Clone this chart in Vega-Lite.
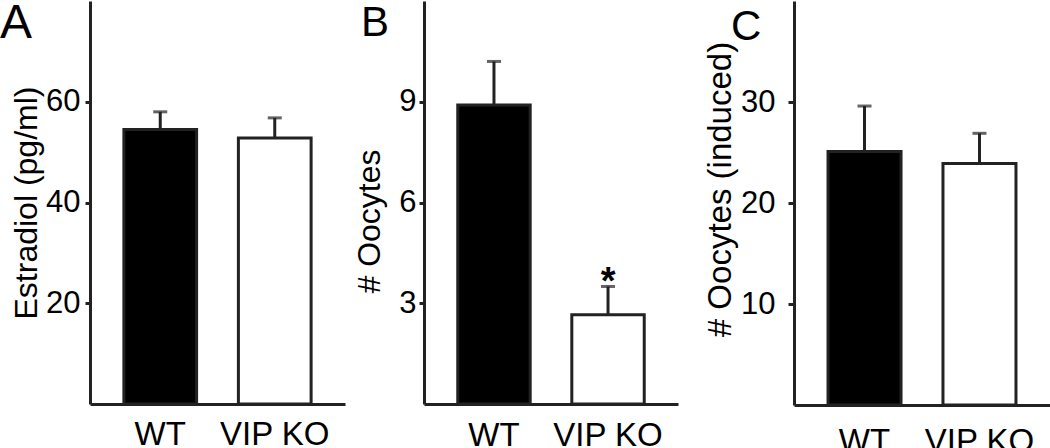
{
  "$schema": "https://vega.github.io/schema/vega-lite/v6.json",
  "padding": 0,
  "background": "white",
  "config": {
    "view": {"stroke": null},
    "font": "Liberation Sans",
    "axis": {"grid": false, "domainColor": "#222", "domainWidth": 3, "tickColor": "#222", "tickWidth": 3, "labelColor": "black", "titleColor": "black", "labelFont": "Liberation Sans", "titleFont": "Liberation Sans", "titleFontWeight": "normal"},
    "title": {"font": "Liberation Sans", "fontWeight": "normal", "color": "black", "anchor": "start", "frame": "group", "baseline": "top", "offset": 0, "orient": "none"}
  },
  "datasets": {
    "a": [
      {"group": "WT", "mean": 54.5, "upper": 58.0, "sig": ""},
      {"group": "VIP KO", "mean": 52.8, "upper": 56.8, "sig": ""}
    ],
    "b": [
      {"group": "WT", "mean": 8.9, "upper": 10.2, "sig": ""},
      {"group": "VIP KO", "mean": 2.66, "upper": 3.5, "sig": "*"}
    ],
    "c": [
      {"group": "WT", "mean": 25.1, "upper": 29.6, "sig": ""},
      {"group": "VIP KO", "mean": 23.9, "upper": 26.9, "sig": ""}
    ]
  },
  "spacing": 26,
  "hconcat": [
    {
      "spacing": 8,
      "hconcat": [
        {
          "width": 255, "height": 403,
          "data": {"name": "a"},
          "title": {"text": "A", "fontSize": 48, "orient": "none", "dx": -90, "dy": -1},
          "encoding": {
            "x": {"field": "group", "type": "nominal", "sort": ["WT", "VIP KO"],
                  "scale": {"paddingInner": 0.365, "paddingOuter": 0.296},
                  "axis": {"title": null, "labelAngle": 0, "ticks": false, "labelFontSize": 33, "labelPadding": 14}}
          },
          "layer": [
            {"mark": {"type": "bar", "stroke": "#222", "strokeWidth": 3},
             "encoding": {
               "y": {"field": "mean", "type": "quantitative", "scale": {"domain": [0, 80]},
                     "axis": {"title": "Estradiol (pg/ml)", "values": [20, 40, 60], "titleFontSize": 32, "labelFontSize": 31, "tickSize": 5, "labelPadding": 5, "titlePadding": 2}},
               "fill": {"field": "group", "type": "nominal", "scale": {"domain": ["WT", "VIP KO"], "range": ["black", "white"]}, "legend": null}
             }},
            {"mark": {"type": "rule", "strokeWidth": 3, "color": "#222"},
             "encoding": {"y": {"field": "mean", "type": "quantitative"}, "y2": {"field": "upper"}}},
            {"mark": {"type": "tick", "size": 14, "thickness": 3, "color": "#222"},
             "encoding": {"y": {"field": "upper", "type": "quantitative"}}}
          ]
        },
        {
          "width": 254, "height": 403,
          "data": {"name": "b"},
          "title": {"text": "B", "fontSize": 42, "orient": "none", "dx": -63, "dy": 2},
          "encoding": {
            "x": {"field": "group", "type": "nominal", "sort": ["WT", "VIP KO"],
                  "scale": {"paddingInner": 0.365, "paddingOuter": 0.296},
                  "axis": {"title": null, "labelAngle": 0, "ticks": false, "labelFontSize": 33, "labelPadding": 15}}
          },
          "layer": [
            {"mark": {"type": "bar", "stroke": "#222", "strokeWidth": 3},
             "encoding": {
               "y": {"field": "mean", "type": "quantitative", "scale": {"domain": [0, 12]},
                     "axis": {"title": "# Oocytes", "values": [3, 6, 9], "titleFontSize": 32, "labelFontSize": 31, "tickSize": 5, "labelPadding": 3, "titlePadding": 12, "titleY": 220}},
               "fill": {"field": "group", "type": "nominal", "scale": {"domain": ["WT", "VIP KO"], "range": ["black", "white"]}, "legend": null}
             }},
            {"mark": {"type": "rule", "strokeWidth": 3, "color": "#222"},
             "encoding": {"y": {"field": "mean", "type": "quantitative"}, "y2": {"field": "upper"}}},
            {"mark": {"type": "tick", "size": 14, "thickness": 3, "color": "#222"},
             "encoding": {"y": {"field": "upper", "type": "quantitative"}}},
            {"mark": {"type": "text", "fontSize": 38, "fontWeight": "bold", "baseline": "alphabetic", "dy": 8, "color": "black"},
             "encoding": {"y": {"field": "upper", "type": "quantitative"}, "text": {"field": "sig"}}}
          ]
        }
      ]
    },
    {
      "width": 256, "height": 404,
      "data": {"name": "c"},
      "title": {"text": "C", "fontSize": 42, "orient": "none", "dx": -63, "dy": 6},
      "encoding": {
        "x": {"field": "group", "type": "nominal", "sort": ["WT", "VIP KO"],
              "scale": {"paddingInner": 0.365, "paddingOuter": 0.296},
              "axis": {"title": null, "labelAngle": 0, "ticks": false, "labelFontSize": 33, "labelPadding": 20}}
      },
      "layer": [
        {"mark": {"type": "bar", "stroke": "#222", "strokeWidth": 3},
         "encoding": {
           "y": {"field": "mean", "type": "quantitative", "scale": {"domain": [0, 40]},
                 "axis": {"title": "# Oocytes (induced)", "values": [10, 20, 30], "titleFontSize": 33, "labelFontSize": 31, "tickSize": 6, "labelPadding": 13, "titlePadding": 3, "titleY": 188}},
           "fill": {"field": "group", "type": "nominal", "scale": {"domain": ["WT", "VIP KO"], "range": ["black", "white"]}, "legend": null}
         }},
        {"mark": {"type": "rule", "strokeWidth": 3, "color": "#222"},
         "encoding": {"y": {"field": "mean", "type": "quantitative"}, "y2": {"field": "upper"}}},
        {"mark": {"type": "tick", "size": 14, "thickness": 3, "color": "#222"},
         "encoding": {"y": {"field": "upper", "type": "quantitative"}}}
      ]
    }
  ]
}
